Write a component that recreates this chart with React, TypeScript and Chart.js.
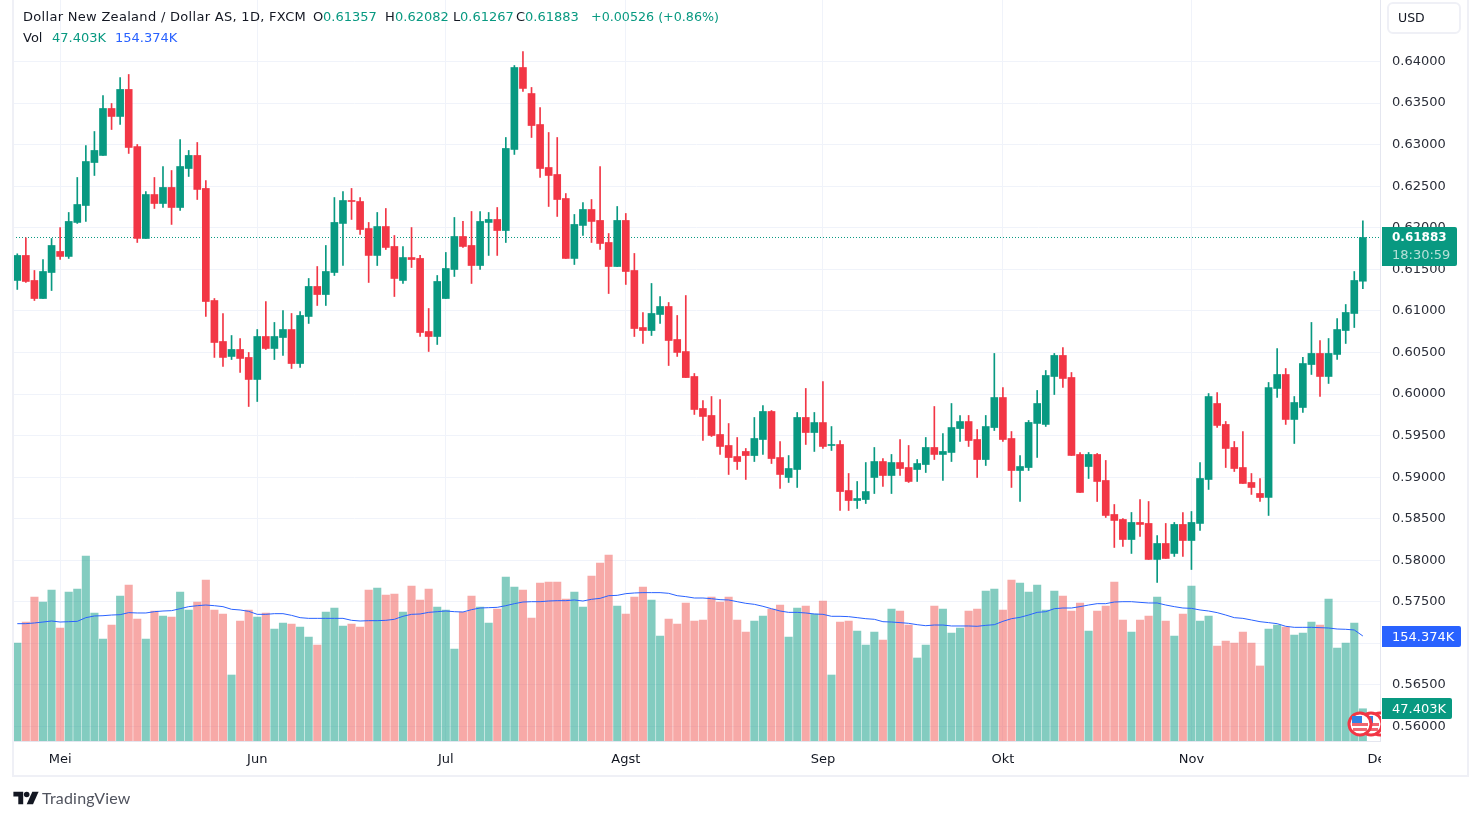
import { useEffect, useRef } from 'react'
import { Chart, registerables } from 'chart.js'

Chart.register(...registerables)

const opens = [
  0.61366, 0.61667, 0.61366, 0.61149, 0.61462, 0.61715, 0.61655, 0.62064, 0.62268, 0.62785,
  0.6287, 0.63435, 0.63339, 0.63664, 0.62978, 0.61871, 0.624, 0.62292, 0.62485, 0.62244,
  0.62713, 0.6287, 0.62473, 0.61125, 0.60632, 0.60452, 0.60536, 0.6044, 0.60175, 0.60692,
  0.60548, 0.6068, 0.60776, 0.60367, 0.60933, 0.61294, 0.61197, 0.61462, 0.62052, 0.62328,
  0.62316, 0.61991, 0.61667, 0.62015, 0.61775, 0.61366, 0.61642, 0.61631, 0.60752, 0.60692,
  0.61149, 0.61498, 0.61895, 0.61787, 0.61546, 0.62064, 0.621, 0.61967, 0.62942, 0.63928,
  0.63615, 0.63242, 0.62725, 0.62641, 0.62352, 0.61631, 0.62028, 0.6222, 0.62088, 0.61823,
  0.61534, 0.62088, 0.61486, 0.608, 0.60764, 0.60957, 0.61053, 0.60656, 0.60511, 0.60211,
  0.59826, 0.59742, 0.59513, 0.59381, 0.59248, 0.59309, 0.5926, 0.59453, 0.5979, 0.59236,
  0.58996, 0.59092, 0.59718, 0.59537, 0.59657, 0.59381, 0.59393, 0.58839, 0.58719, 0.58731,
  0.58996, 0.59188, 0.5902, 0.59176, 0.59116, 0.59092, 0.59152, 0.59357, 0.59273, 0.59297,
  0.59585, 0.59669, 0.59453, 0.59212, 0.59597, 0.59958, 0.59465, 0.5908, 0.59116, 0.59646,
  0.59634, 0.60211, 0.60464, 0.60199, 0.59273, 0.59128, 0.59273, 0.5896, 0.58551, 0.58491,
  0.5825, 0.58455, 0.58443, 0.5801, 0.58202, 0.58082, 0.58431, 0.58238, 0.58443, 0.58972,
  0.59886, 0.59634, 0.59357, 0.59116, 0.58936, 0.58804, 0.58755, 0.60067, 0.60235, 0.59694,
  0.59838, 0.60355, 0.60488, 0.60211, 0.60476, 0.60764, 0.60969, 0.61357,
]
const closes = [
  0.61667, 0.61354, 0.61149, 0.61474, 0.61787, 0.61655, 0.62076, 0.6228, 0.62797, 0.6293,
  0.63435, 0.63339, 0.63664, 0.62966, 0.61871, 0.624, 0.62292, 0.62485, 0.62244, 0.62737,
  0.6287, 0.62461, 0.61113, 0.6062, 0.6044, 0.60536, 0.60428, 0.60175, 0.60692, 0.60548,
  0.60692, 0.60776, 0.60367, 0.60945, 0.61294, 0.61197, 0.61474, 0.62064, 0.62328, 0.62316,
  0.61979, 0.61667, 0.62015, 0.61763, 0.6139, 0.61642, 0.61618, 0.6074, 0.60692, 0.61354,
  0.6151, 0.61895, 0.61775, 0.61546, 0.62076, 0.621, 0.61967, 0.62954, 0.63928, 0.63676,
  0.6323, 0.62713, 0.62629, 0.6234, 0.61631, 0.6204, 0.6222, 0.62076, 0.61811, 0.61534,
  0.62088, 0.61474, 0.60788, 0.60764, 0.60969, 0.61053, 0.60644, 0.605, 0.60198, 0.59814,
  0.5973, 0.59501, 0.59369, 0.59236, 0.59188, 0.5926, 0.59465, 0.5979, 0.59224, 0.59032,
  0.59104, 0.59718, 0.59537, 0.59657, 0.59369, 0.59393, 0.58827, 0.58719, 0.58743, 0.58827,
  0.59188, 0.5902, 0.59176, 0.59104, 0.58948, 0.59164, 0.59357, 0.59273, 0.59309, 0.59597,
  0.59669, 0.59441, 0.59212, 0.59609, 0.59958, 0.59453, 0.5908, 0.59128, 0.59658, 0.59886,
  0.60223, 0.60464, 0.60187, 0.59261, 0.58816, 0.59273, 0.58948, 0.58539, 0.58479, 0.5825,
  0.58455, 0.58431, 0.5801, 0.58202, 0.58022, 0.58431, 0.58238, 0.58455, 0.58984, 0.5997,
  0.59622, 0.59345, 0.59104, 0.58924, 0.58876, 0.58755, 0.60079, 0.60235, 0.59694, 0.59898,
  0.60367, 0.60488, 0.60211, 0.60488, 0.60776, 0.60981, 0.61366, 0.61883,
]
const highs = [
  0.61687, 0.61879, 0.61486, 0.61618, 0.61871, 0.62003, 0.62184, 0.62605, 0.6299, 0.63158,
  0.63591, 0.63495, 0.63808, 0.63844, 0.63002, 0.62436, 0.62605, 0.62737, 0.62689, 0.63062,
  0.6293, 0.63026, 0.62569, 0.61149, 0.60969, 0.60704, 0.60668, 0.605, 0.60776, 0.61113,
  0.60861, 0.61005, 0.60969, 0.60993, 0.6139, 0.61534, 0.61787, 0.62364, 0.62436, 0.62473,
  0.62364, 0.62064, 0.62184, 0.62232, 0.61907, 0.61775, 0.62003, 0.61667, 0.61029, 0.61426,
  0.61703, 0.62124, 0.62076, 0.62196, 0.62196, 0.62184, 0.62244, 0.63086, 0.63952, 0.64121,
  0.63688, 0.63447, 0.63146, 0.63086, 0.62412, 0.6216, 0.62304, 0.6234, 0.62737, 0.61931,
  0.62256, 0.62172, 0.61691, 0.60981, 0.6133, 0.61173, 0.61101, 0.60945, 0.61185, 0.60247,
  0.59922, 0.5997, 0.59934, 0.59645, 0.59477, 0.59345, 0.59718, 0.59862, 0.59802, 0.59429,
  0.5926, 0.59778, 0.60067, 0.59778, 0.60151, 0.59609, 0.59441, 0.59044, 0.58948, 0.59176,
  0.59357, 0.59224, 0.59273, 0.59453, 0.59381, 0.59212, 0.59477, 0.5985, 0.59525, 0.59886,
  0.59742, 0.59742, 0.59573, 0.59742, 0.60488, 0.60079, 0.59549, 0.5926, 0.59682, 0.60043,
  0.60283, 0.60488, 0.6056, 0.60259, 0.59297, 0.59297, 0.59285, 0.59201, 0.58671, 0.58503,
  0.58575, 0.58731, 0.58707, 0.58298, 0.58443, 0.58455, 0.58575, 0.58587, 0.59176, 0.60006,
  0.60018, 0.5967, 0.59429, 0.59549, 0.59044, 0.58984, 0.60139, 0.60548, 0.60307, 0.5997,
  0.6044, 0.60861, 0.60644, 0.60668, 0.60909, 0.61077, 0.61474, 0.62082,
]
const lows = [
  0.61258, 0.61342, 0.61125, 0.61149, 0.61245, 0.61618, 0.61631, 0.62052, 0.62076, 0.62629,
  0.6287, 0.63182, 0.63242, 0.62894, 0.61823, 0.61871, 0.62232, 0.62244, 0.6204, 0.62208,
  0.62617, 0.6234, 0.60933, 0.6044, 0.60331, 0.60415, 0.60259, 0.5985, 0.5991, 0.60536,
  0.60415, 0.60464, 0.60307, 0.60319, 0.60849, 0.61065, 0.61065, 0.61426, 0.61546, 0.621,
  0.61919, 0.61342, 0.61546, 0.61739, 0.61173, 0.6133, 0.61522, 0.60692, 0.60512, 0.60596,
  0.61149, 0.61414, 0.61763, 0.6133, 0.61498, 0.61667, 0.61667, 0.61823, 0.62882, 0.6364,
  0.63086, 0.62605, 0.62256, 0.62136, 0.61631, 0.61558, 0.61907, 0.61823, 0.61739, 0.61209,
  0.61534, 0.61318, 0.60692, 0.60608, 0.60704, 0.60849, 0.60343, 0.60452, 0.60198, 0.59754,
  0.59441, 0.59489, 0.59273, 0.59032, 0.59092, 0.58972, 0.59188, 0.59273, 0.59164, 0.58864,
  0.58936, 0.58876, 0.59393, 0.59309, 0.59345, 0.59321, 0.58599, 0.58599, 0.58623, 0.58683,
  0.58803, 0.58888, 0.58803, 0.5902, 0.58936, 0.58948, 0.59056, 0.59212, 0.5896, 0.59188,
  0.59429, 0.59369, 0.58996, 0.5914, 0.59561, 0.59429, 0.58876, 0.58707, 0.5908, 0.59237,
  0.5961, 0.59994, 0.60079, 0.59261, 0.58816, 0.58984, 0.58707, 0.58515, 0.58154, 0.58166,
  0.58082, 0.58286, 0.5801, 0.57733, 0.58022, 0.58046, 0.58046, 0.57889, 0.58358, 0.58852,
  0.59598, 0.59116, 0.59068, 0.58924, 0.58792, 0.58707, 0.58539, 0.59958, 0.59634, 0.59405,
  0.59778, 0.60235, 0.5997, 0.60127, 0.60416, 0.60608, 0.608, 0.61267,
]
// volume in thousands
const volumes = [
  144.1, 174.9, 211.7, 204.3, 222.0, 166.1, 219.0, 223.4, 272.0, 188.2,
  149.9, 170.5, 213.2, 229.3, 179.3, 149.9, 191.1, 183.8, 182.3, 219.0,
  192.6, 204.3, 236.7, 192.6, 186.7, 97.0, 176.4, 192.6, 182.3, 188.2,
  164.6, 173.5, 172.0, 167.6, 152.9, 141.1, 189.6, 195.5, 169.1, 172.0,
  167.6, 222.0, 224.9, 214.6, 216.1, 189.6, 227.9, 207.3, 223.4, 197.0,
  192.6, 135.2, 189.6, 213.2, 197.0, 173.5, 194.0, 241.1, 226.4, 222.0,
  180.8, 232.3, 233.7, 233.7, 208.7, 219.0, 197.0, 242.6, 261.7, 273.4,
  198.5, 186.7, 211.7, 226.4, 207.3, 154.4, 179.3, 172.0, 202.9, 176.4,
  177.9, 211.7, 204.3, 211.7, 177.9, 160.2, 176.4, 183.8, 194.0, 199.9,
  152.9, 195.5, 198.5, 186.7, 205.8, 97.0, 174.9, 176.4, 161.7, 141.1,
  160.2, 148.5, 194.0, 191.1, 170.5, 122.0, 141.1, 198.5, 194.0, 158.8,
  166.1, 191.1, 194.0, 220.5, 223.4, 192.6, 236.7, 232.3, 219.0, 229.3,
  192.6, 220.5, 213.2, 191.1, 202.9, 161.7, 191.1, 198.5, 233.7, 177.9,
  160.2, 177.9, 183.8, 211.7, 176.4, 154.4, 186.7, 227.9, 176.4, 183.8,
  139.7, 147.0, 144.1, 160.2, 144.1, 110.3, 164.6, 170.5, 167.6, 155.8,
  158.8, 174.9, 170.5, 208.7, 136.7, 144.1, 173.5, 47.403,
]
const volumeMa = [
  172.5, 172.5, 173.5, 174.9, 176.4, 174.9, 175.4, 175.9, 181.3, 183.8,
  184.2, 185.2, 185.7, 188.7, 188.2, 188.2, 190.1, 191.1, 191.6, 194.5,
  197.5, 198.9, 199.9, 198.9, 197.5, 193.6, 192.6, 190.6, 186.2, 186.2,
  187.2, 187.2, 184.7, 181.3, 180.3, 180.3, 180.3, 180.3, 180.3, 177.4,
  176.4, 176.9, 176.9, 177.4, 178.9, 183.3, 186.2, 186.7, 189.1, 190.1,
  191.1, 190.1, 189.6, 193.1, 195.5, 196.0, 196.5, 198.9, 201.9, 204.3,
  204.8, 204.8, 205.8, 206.3, 206.3, 207.3, 205.8, 208.3, 209.7, 213.6,
  214.1, 216.6, 217.6, 218.1, 218.1, 218.1, 217.1, 213.6, 212.2, 210.2,
  210.2, 209.2, 207.8, 207.3, 204.8, 202.4, 200.9, 198.0, 194.5, 191.1,
  189.1, 189.1, 188.2, 186.7, 186.2, 183.3, 183.3, 182.8, 181.3, 179.8,
  178.9, 175.4, 174.9, 174.0, 173.0, 171.0, 169.5, 170.5, 170.5, 169.1,
  169.1, 169.1, 168.6, 170.0, 171.0, 175.9, 179.8, 181.8, 185.2, 189.1,
  190.1, 194.5, 195.5, 195.5, 197.5, 199.9, 201.9, 201.9, 204.3, 204.8,
  204.8, 203.8, 202.9, 202.9, 199.9, 197.5, 195.5, 195.0, 192.6, 191.1,
  188.7, 185.2, 181.3, 180.3, 177.9, 175.4, 174.0, 172.5, 168.6, 167.1,
  167.1, 167.1, 166.6, 166.1, 164.6, 164.2, 163.2, 154.374,
]
const monthTicks = [5, 28, 50, 71, 94, 115, 137, 159]
const monthLabels = ['Mei', 'Jun', 'Jul', 'Agst', 'Sep', 'Okt', 'Nov', 'Des']
const priceTicks = [0.56, 0.565, 0.57, 0.575, 0.58, 0.585, 0.59, 0.595, 0.6, 0.605, 0.61, 0.615, 0.62, 0.625, 0.63, 0.635, 0.64]
const lastPrice = 0.61883

const GREEN = '#089981'
const RED = '#f23645'
const FONT = '"DejaVu Sans", sans-serif'

function Txt({ x, y, c = '#131722', w, s = 13, ls, children }: { x: number; y: number; c?: string; w?: number; s?: number; ls?: number; children: any }) {
  return <span style={{ position: 'absolute', left: x, top: y, color: c, fontSize: s, letterSpacing: ls, lineHeight: '18px', whiteSpace: 'nowrap', fontWeight: w }}>{children}</span>
}

function Flag({ x }: { x: number }) {
  return (
    <g transform={`translate(${x} 724)`}>
      <circle r="11" fill="#fff" stroke="#f23645" strokeWidth="3" />
      <rect x="-8" y="-1" width="16" height="3" fill="#f0656f" />
      <rect x="-7" y="4" width="14" height="3" fill="#f0656f" />
      <rect x="-8" y="-8" width="10" height="7" fill="#2f80e4" />
    </g>
  )
}

export default function App() {
  const canvasRef = useRef<HTMLCanvasElement>(null)

  useEffect(() => {
    if (!canvasRef.current) return
    const up = closes.map((c, i) => c >= opens[i])
    const chart = new Chart(canvasRef.current, {
      data: {
        datasets: [
          {
            type: 'bar', yAxisID: 'y', order: 1, barThickness: 7, grouped: false,
            data: opens.map((o, i) => ({ x: i, y: [Math.min(o, closes[i]), Math.max(o, closes[i])] })),
            backgroundColor: up.map(u => (u ? GREEN : RED)), borderWidth: 0, borderSkipped: false,
          },
          {
            type: 'bar', yAxisID: 'y', order: 2, barThickness: 1, grouped: false,
            data: highs.map((h, i) => ({ x: i, y: [lows[i], h] })),
            backgroundColor: up.map(u => (u ? GREEN : RED)), borderWidth: 0, borderSkipped: false,
          },
          {
            type: 'line', yAxisID: 'y', order: 3,
            data: [{ x: -0.5, y: lastPrice }, { x: 159, y: lastPrice }],
            borderColor: GREEN, borderWidth: 1, borderDash: [1, 2], pointRadius: 0,
          },
          {
            type: 'line', yAxisID: 'vol', order: 4,
            data: volumeMa.map((v, i) => ({ x: i, y: v })),
            borderColor: '#2962ff', borderWidth: 1, pointRadius: 0, tension: 0,
          },
          {
            type: 'bar', yAxisID: 'vol', order: 5, barThickness: 7.4, grouped: false,
            data: volumes.map((v, i) => ({ x: i, y: v })),
            backgroundColor: up.map(u => (u ? 'rgba(8,153,129,0.5)' : 'rgba(239,83,80,0.5)')), borderWidth: 0,
          },
        ],
      },
      options: {
        responsive: false, animation: false,
        layout: { padding: { left: 13, right: 13, top: 0, bottom: 44 } },
        plugins: { legend: { display: false }, tooltip: { enabled: false } },
        scales: {
          x: {
            type: 'linear', min: -0.5, max: 159, offset: false,
            afterBuildTicks: (s: any) => { s.ticks = monthTicks.map(value => ({ value })) },
            afterFit: (s: any) => { s.height = 35; s.paddingLeft = 0; s.paddingRight = 0 },
            ticks: {
              autoSkip: false, maxRotation: 0, padding: 11, color: '#131722',
              font: { family: FONT, size: 13 },
              callback: (v: any) => monthLabels[monthTicks.indexOf(Number(v))],
            },
            grid: { color: '#f0f3fa', drawTicks: false, offset: false },
            border: { color: '#e4e6ef' },
          },
          y: {
            position: 'right', min: 0.55826, max: 0.6474,
            afterBuildTicks: (s: any) => { s.ticks = priceTicks.map(value => ({ value })) },
            afterFit: (s: any) => { s.width = 87; s.paddingTop = 0; s.paddingBottom = 0 },
            ticks: {
              padding: 12, color: '#2a2e39', font: { family: FONT, size: 13 },
              callback: (v: any) => Number(v).toFixed(5),
            },
            grid: { color: '#f0f3fa', drawTicks: false },
            border: { color: '#e4e6ef' },
          },
          vol: { display: false, min: 0, max: 1089.3 },
        },
      },
    } as any)
    return () => { chart.destroy() }
  }, [])

  return (
    <div style={{ position: 'fixed', left: 0, top: 0, width: 1480, height: 820, background: '#fff', overflow: 'hidden', fontFamily: FONT }}>
      <canvas ref={canvasRef} width={1480} height={820} style={{ position: 'absolute', left: 0, top: 0 }} />
      {/* frame */}
      <div style={{ position: 'absolute', left: 12, top: 0, width: 1453, height: 775, borderLeft: '2px solid #eff0f6', borderRight: '2px solid #eff0f6', borderBottom: '2px solid #eff0f6' }} />
      {/* clips the last month label at the price axis */}
      <div style={{ position: 'absolute', left: 1381, top: 742, width: 84, height: 33, background: '#fff' }} />

      <Txt x={23} y={8} ls={0.3}>Dollar New Zealand / Dollar AS, 1D, FXCM</Txt>
      <Txt x={313} y={8}>O</Txt><Txt x={323} y={8} c={GREEN}>0.61357</Txt>
      <Txt x={385} y={8}>H</Txt><Txt x={395} y={8} c={GREEN}>0.62082</Txt>
      <Txt x={453} y={8}>L</Txt><Txt x={460} y={8} c={GREEN}>0.61267</Txt>
      <Txt x={516} y={8}>C</Txt><Txt x={525} y={8} c={GREEN}>0.61883</Txt>
      <Txt x={591} y={8} c={GREEN} s={12.7}>+0.00526 (+0.86%)</Txt>
      <Txt x={23} y={29}>Vol</Txt>
      <Txt x={52} y={29} c={GREEN}>47.403K</Txt>
      <Txt x={115} y={29} c="#2962ff">154.374K</Txt>

      <div style={{ position: 'absolute', left: 1387, top: 2, width: 70, height: 28, border: '2px solid #eff0f6', borderRadius: 6, background: '#fff' }}>
        <Txt x={9} y={5} s={12.5}>USD</Txt>
      </div>

      <svg width={1381} height={820} style={{ position: 'absolute', left: 0, top: 0, pointerEvents: 'none' }}>
        <Flag x={1380} />
        <Flag x={1371} />
        <Flag x={1360} />
      </svg>

      <div style={{ position: 'absolute', left: 1382, top: 227, width: 75, height: 39, background: GREEN, borderRadius: '0 2px 2px 0' }}>
        <Txt x={10} y={1} c="#fff" w={700} s={12}>0.61883</Txt>
        <Txt x={10} y={19} c="#b5e0d8">18:30:59</Txt>
      </div>
      <div style={{ position: 'absolute', left: 1382, top: 626, width: 79, height: 21, background: '#2962ff', borderRadius: '0 2px 2px 0' }}>
        <Txt x={10} y={2} c="#fff">154.374K</Txt>
      </div>
      <div style={{ position: 'absolute', left: 1382, top: 698, width: 70, height: 21, background: GREEN, borderRadius: '0 2px 2px 0' }}>
        <Txt x={10} y={2} c="#fff">47.403K</Txt>
      </div>

      <svg width={26} height={14} viewBox="0 0 36 20" style={{ position: 'absolute', left: 13, top: 791 }}>
        <path d="M0 1h14v18H7V8H0z" fill="#131722" />
        <circle cx="19" cy="5" r="4" fill="#131722" />
        <path d="M27 1h9l-8 18h-9z" fill="#131722" />
      </svg>
      <span style={{ position: 'absolute', left: 42, top: 789, fontFamily: 'Lato, sans-serif', fontSize: 16, letterSpacing: 0.2, lineHeight: '18px', color: '#50535e' }}>TradingView</span>
    </div>
  )
}
